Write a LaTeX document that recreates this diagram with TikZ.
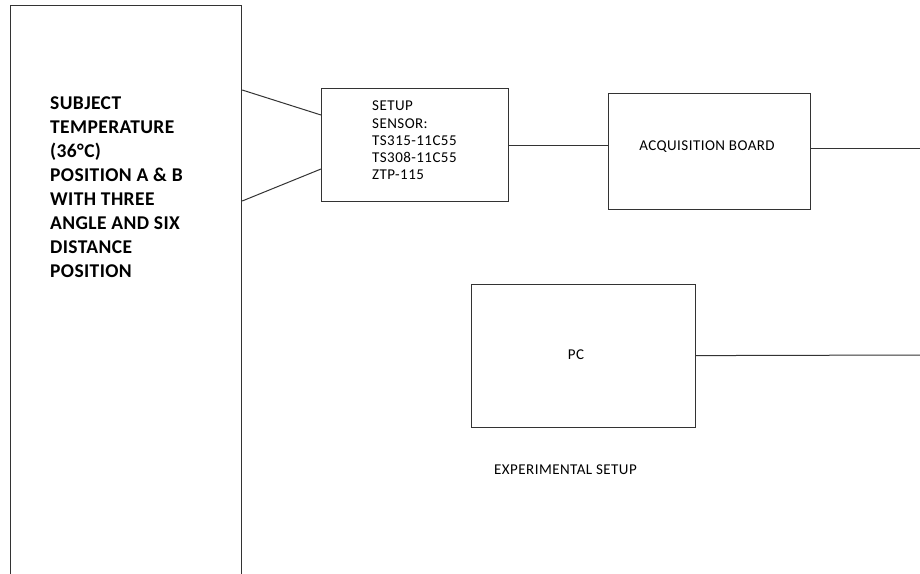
\documentclass[tikz,border=0pt]{standalone}
\usepackage{fontspec}
\setmainfont{Carlito}
\newfontfamily\smallfnt[LetterSpace=3]{Carlito}
\newfontfamily\bigfnt[LetterSpace=2]{Carlito}
\usetikzlibrary{calc}
\definecolor{ln}{HTML}{333333}
\begin{document}
\begin{tikzpicture}[x=1pt,y=-1pt,
  boxst/.style={draw=ln,line width=1.2pt,rectangle,inner sep=0pt,anchor=north west},
  wire/.style={draw=ln,line width=1pt},
  txt/.style={inner sep=0pt,anchor=north west,align=left,text=black},
  lbl/.style={inner sep=0pt,text=black,font=\smallfnt\fontsize{15}{16}\selectfont}]
\clip (0,0) rectangle (920,573);
\useasboundingbox (0,0) rectangle (920,573);
\fill[white] (0,0) rectangle (920,573);
% boxes
\node[boxst,minimum width=231pt,minimum height=600pt] (subj) at (10,5) {};
\node[boxst,minimum width=187pt,minimum height=113pt] (setup) at (321,88) {};
\node[boxst,minimum width=202pt,minimum height=116pt] (acq) at (608,93) {};
\node[boxst,minimum width=224pt,minimum height=143pt] (pc) at (471,283.5) {};
% texts
\node[txt,font=\bigfnt\bfseries\fontsize{19.5}{24}\selectfont] (subjtext) at (50,97)
 {SUBJECT\\TEMPERATURE\\(36°C)\\POSITION A \& B\\WITH THREE\\ANGLE AND SIX\\DISTANCE\\POSITION};
\node[txt,font=\smallfnt\fontsize{15}{17.2}\selectfont] (setuptext) at (372,101)
 {SETUP\\SENSOR:\\TS315-11C55\\TS308-11C55\\ZTP-115};
\node[lbl] (acqtext) at (707,147) {ACQUISITION BOARD};
\node[lbl] (pctext) at (576,355) {PC};
\node[lbl] (exptext) at (565.5,470) {EXPERIMENTAL SETUP};
% free ends at the right edge
\coordinate (acqout) at (920,148);
\coordinate (pcout) at (920,355);
% connectors
\draw[wire] ($(subj.north east)+(0,85)$) -- ($(setup.north west)+(0,27)$);
\draw[wire] ($(subj.north east)+(0,196)$) -- ($(setup.north west)+(0,81)$);
\draw[wire] ($(setup.north east)+(0,57)$) -- ($(acq.north west)+(0,52)$);
\draw[wire] ($(acq.north east)+(0,55)$) -- (acqout);
\draw[wire] (pc.east) -- (pcout);
\end{tikzpicture}
\end{document}
